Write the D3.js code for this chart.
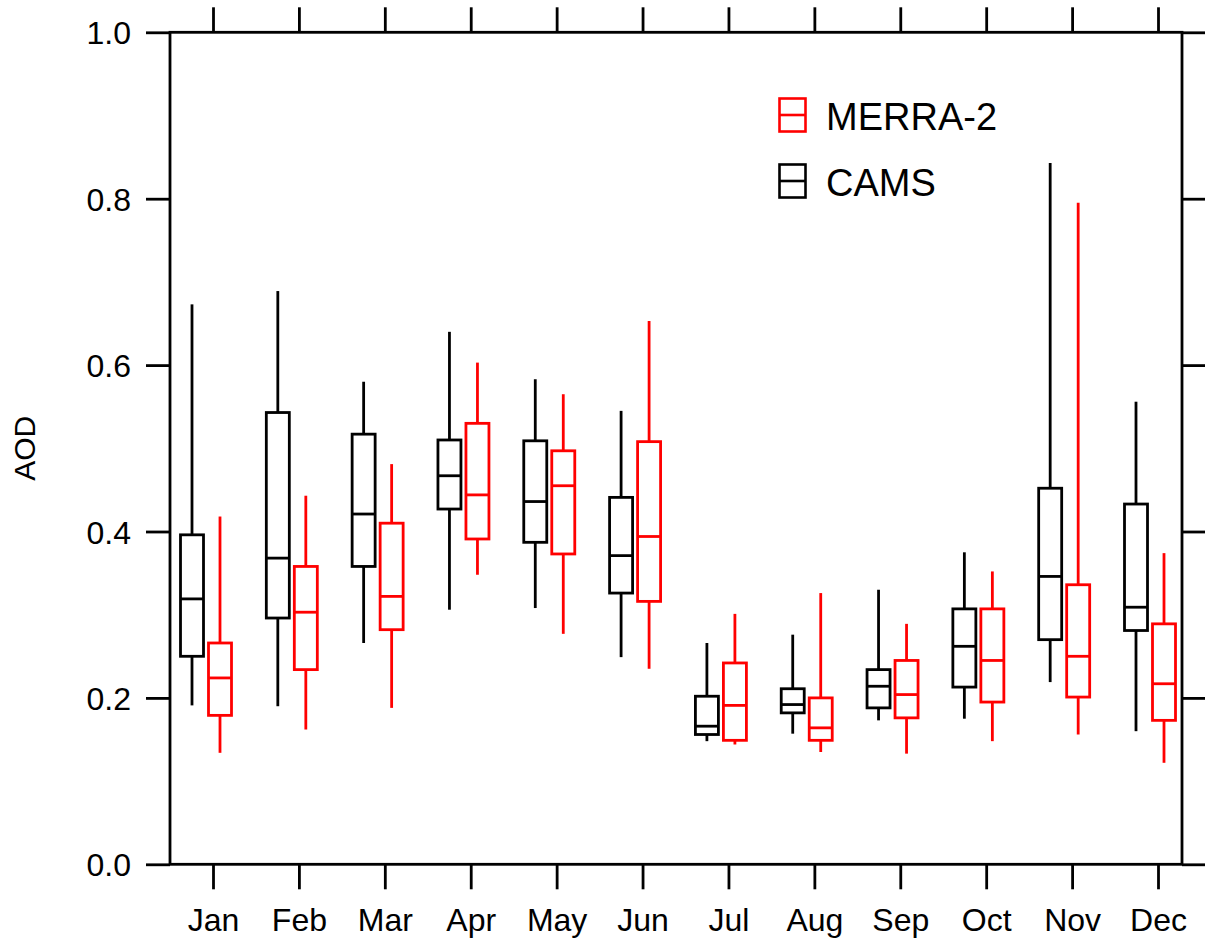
<!DOCTYPE html>
<html>
<head>
<meta charset="utf-8">
<script src="https://cdn.jsdelivr.net/npm/d3@7"></script>
<style>
  html, body { margin: 0; padding: 0; background: #fff; }
  svg { display: block; }
  text { font-family: "Liberation Sans", Arial, Helvetica, sans-serif; fill: #000; }
</style>
</head>
<body>
<svg id="chart" width="1205" height="941"></svg>
<script>
const months = ["Jan","Feb","Mar","Apr","May","Jun","Jul","Aug","Sep","Oct","Nov","Dec"];
const yTicks = [0, 0.2, 0.4, 0.6, 0.8, 1.0];

// CAMS (black)
const camsMin = [0.191,0.190,0.266,0.306,0.308,0.249,0.148,0.157,0.173,0.175,0.219,0.160];
const camsQ1  = [0.250,0.296,0.358,0.427,0.387,0.326,0.156,0.182,0.188,0.213,0.270,0.281];
const camsMed = [0.319,0.368,0.421,0.467,0.436,0.371,0.166,0.192,0.214,0.262,0.346,0.309];
const camsQ3  = [0.396,0.543,0.517,0.510,0.509,0.441,0.202,0.211,0.234,0.307,0.452,0.433];
const camsMax = [0.673,0.689,0.580,0.640,0.583,0.545,0.266,0.276,0.330,0.375,0.843,0.556];

// MERRA-2 (red)
const merraMin = [0.134,0.162,0.188,0.348,0.277,0.235,0.144,0.135,0.133,0.148,0.156,0.122];
const merraQ1  = [0.179,0.234,0.282,0.391,0.373,0.316,0.149,0.149,0.176,0.195,0.201,0.173];
const merraMed = [0.224,0.303,0.322,0.444,0.455,0.394,0.191,0.164,0.204,0.245,0.250,0.217];
const merraQ3  = [0.266,0.358,0.410,0.530,0.497,0.508,0.242,0.200,0.245,0.307,0.336,0.289];
const merraMax = [0.418,0.443,0.481,0.603,0.565,0.653,0.301,0.326,0.289,0.352,0.795,0.374];

const seriesNames = ["MERRA-2", "CAMS"];
const seriesColors = ["#ff0000", "#000000"];

const svg = d3.select("#chart");
const L = 170, R = 1182, T = 32.3, B = 864.3;
const SW = 2.8;

const y = d3.scaleLinear().domain([0, 1]).range([B, T]);
const xc = d3.scalePoint().domain(months).range([206, 1150]);   // pair centres
const xt = d3.scalePoint().domain(months).range([213, 1158]);   // tick positions

const boxOffset = 14, boxW = 23;

// axes
const fmt = d3.format(".1f");
const gl = svg.append("g").attr("transform", `translate(${L},0)`)
  .call(d3.axisLeft(y).tickValues(yTicks).tickSize(24).tickPadding(15).tickFormat(fmt));
const gr = svg.append("g").attr("transform", `translate(${R},0)`)
  .call(d3.axisRight(y).tickValues(yTicks).tickSize(23).tickFormat(""));
const gb = svg.append("g").attr("transform", `translate(0,${B})`)
  .call(d3.axisBottom(xt).tickSize(25).tickPadding(19));
const gt = svg.append("g").attr("transform", `translate(0,${T})`)
  .call(d3.axisTop(xt).tickSize(25).tickFormat(""));
[gl, gr, gb, gt].forEach(g => {
  g.select(".domain").remove();
  g.selectAll(".tick line").attr("stroke", "#000").attr("stroke-width", SW);
  g.selectAll(".tick text").attr("font-size", 32).attr("fill", "#000")
    .style("font-family", '"Liberation Sans", Arial, sans-serif');
});
gl.selectAll(".tick text").attr("dy", "0.36em");

// frame
svg.append("rect").attr("x", L).attr("y", T).attr("width", R - L).attr("height", B - T)
  .attr("fill", "none").attr("stroke", "#000").attr("stroke-width", SW);

// y label
svg.append("text").attr("transform", `translate(35,${(T + B) / 2}) rotate(-90)`)
  .attr("text-anchor", "middle").attr("font-size", 30).text("AOD");

// boxes
function drawBoxes(mins, q1, med, q3, maxs, color, offset) {
  const data = months.map((m, i) => ({ m, min: mins[i], q1: q1[i], med: med[i], q3: q3[i], max: maxs[i] }));
  const g = svg.append("g").attr("stroke", color).attr("stroke-width", SW).attr("fill", "none");
  const grp = g.selectAll("g").data(data).join("g")
    .attr("transform", d => `translate(${xc(d.m) + offset},0)`);
  grp.append("line").attr("x1", 0).attr("x2", 0).attr("y1", d => y(d.max)).attr("y2", d => y(d.q3));
  grp.append("line").attr("x1", 0).attr("x2", 0).attr("y1", d => y(d.q1)).attr("y2", d => y(d.min));
  grp.append("rect").attr("x", -boxW / 2).attr("width", boxW)
    .attr("y", d => y(d.q3)).attr("height", d => y(d.q1) - y(d.q3));
  grp.append("line").attr("x1", -boxW / 2).attr("x2", boxW / 2)
    .attr("y1", d => y(d.med)).attr("y2", d => y(d.med));
}
drawBoxes(camsMin, camsQ1, camsMed, camsQ3, camsMax, seriesColors[1], -boxOffset);
drawBoxes(merraMin, merraQ1, merraMed, merraQ3, merraMax, seriesColors[0], boxOffset);

// legend
const leg = svg.append("g").attr("transform", "translate(779,98)");
seriesNames.forEach((name, i) => {
  const gi = leg.append("g").attr("transform", `translate(0,${i * 66})`);
  gi.append("rect").attr("x", 0.5).attr("y", 0.5).attr("width", 26).attr("height", 33)
    .attr("fill", "none").attr("stroke", seriesColors[i]).attr("stroke-width", 2.6);
  gi.append("line").attr("x1", 0.5).attr("x2", 26.5).attr("y1", 17).attr("y2", 17)
    .attr("stroke", seriesColors[i]).attr("stroke-width", 2.6);
  gi.append("text").attr("x", 47).attr("y", 32).attr("font-size", 38).text(name);
});
</script>
</body>
</html>
